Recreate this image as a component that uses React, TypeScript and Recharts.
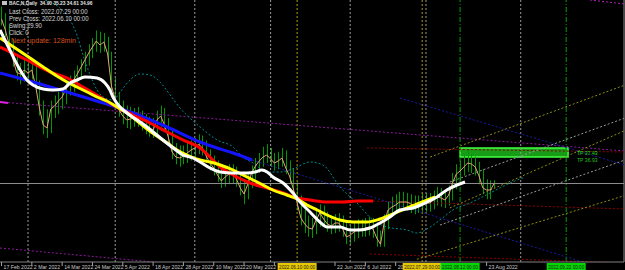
import { ComposedChart, Line, Bar, XAxis, YAxis, ReferenceLine, ReferenceArea } from 'recharts';

// daily bars, index 0 = 17 Feb 2022
const closes = [
  48.12, 47.24, 46.12, 44.92, 43.84, 43.72, 44.04, 43.8, 44.04, 42.76,
  41.0, 39.64, 39.4, 40.92, 41.16, 41.56, 41.88, 42.52, 42.92, 43.24,
  43.72, 44.28, 44.84, 45.4, 45.88, 46.36, 46.04, 46.28, 45.32, 42.76,
  41.72, 40.84, 40.36, 40.04, 40.12, 40.2, 40.12, 39.8, 39.56, 39.4,
  39.24, 40.04, 40.36, 39.64, 38.68, 37.48, 37.08, 37.0, 37.16, 37.4,
  37.64, 37.8, 38.12, 37.8, 37.16, 36.6, 36.2, 35.64, 35.16, 35.48,
  35.72, 35.72, 35.32, 34.6, 34.12, 34.92, 35.8, 36.36, 36.76, 37.08,
  37.24, 36.92, 36.6, 36.76, 37.0, 36.2, 35.56, 34.52, 33.4, 32.2,
  31.72, 31.4, 31.32, 32.04, 32.6, 32.12, 31.72, 31.56, 31.8, 31.8,
  31.32, 30.68, 30.84, 31.08, 31.32, 31.32, 31.4, 31.48, 31.32, 30.6,
  30.1, 31.88, 32.84, 33.08, 33.24, 33.48, 33.48, 33.48, 33.32, 33.16,
  33.24, 33.48, 33.4, 33.4, 33.64, 33.88, 33.8, 33.64, 34.04, 35.0,
  35.72, 35.96, 36.28, 36.6, 36.52, 36.28, 35.56, 34.6, 34.44, 34.44,
  34.96,
];
const highs = [
  49.1, 48.6, 47.7, 46.5, 45.3, 44.6, 44.9, 44.7, 44.9, 44.4,
  43.2, 41.6, 40.9, 41.6, 42.0, 42.3, 42.6, 43.1, 43.6, 44.0,
  44.4, 44.9, 45.5, 46.1, 46.6, 47.2, 47.1, 47.0, 46.7, 45.5,
  43.4, 42.3, 41.6, 41.2, 41.1, 41.0, 41.1, 40.8, 40.5, 40.3,
  40.2, 40.8, 41.2, 41.0, 40.2, 39.3, 38.2, 38.0, 38.0, 38.2,
  38.4, 38.6, 38.9, 38.8, 38.4, 37.7, 37.2, 36.8, 36.3, 36.3,
  36.5, 36.5, 36.3, 35.8, 35.3, 35.7, 36.4, 37.0, 37.4, 37.9,
  38.1, 37.8, 37.4, 37.5, 37.8, 37.6, 36.8, 36.2, 35.1, 34.0,
  32.9, 32.4, 32.2, 32.8, 33.3, 33.2, 32.7, 32.4, 32.5, 32.6,
  32.4, 31.9, 31.6, 31.8, 32.1, 32.1, 32.2, 32.3, 32.2, 31.8,
  31.2, 32.5, 33.5, 33.9, 34.1, 34.3, 34.3, 34.2, 34.1, 34.0,
  34.0, 34.2, 34.2, 34.2, 34.4, 34.7, 34.6, 34.4, 34.8, 35.8,
  36.5, 36.8, 37.2, 37.7, 37.3, 37.1, 36.7, 36.1, 35.3, 35.2,
  35.23,
];
const lows = [
  47.6, 46.7, 45.6, 44.3, 43.2, 42.9, 43.1, 43.1, 43.3, 42.2,
  40.4, 38.9, 38.6, 39.0, 40.2, 40.5, 40.9, 41.3, 42.0, 42.3,
  42.7, 43.3, 43.9, 44.4, 45.0, 45.5, 45.4, 45.5, 44.7, 42.2,
  41.1, 40.3, 39.7, 39.4, 39.3, 39.5, 39.5, 39.2, 38.9, 38.7,
  38.6, 38.9, 39.5, 39.1, 38.1, 36.9, 36.5, 36.3, 36.5, 36.6,
  36.8, 37.1, 37.3, 37.2, 36.6, 36.0, 35.6, 35.1, 34.6, 34.7,
  34.9, 35.0, 34.7, 34.0, 33.3, 33.7, 34.6, 35.3, 35.8, 36.3,
  36.6, 36.3, 36.0, 36.1, 36.3, 35.7, 35.0, 33.9, 32.8, 31.6,
  31.0, 30.7, 30.6, 30.9, 31.5, 31.5, 31.1, 30.9, 31.0, 31.1,
  30.7, 30.1, 30.1, 30.3, 30.6, 30.7, 30.7, 30.8, 30.6, 29.9,
  29.9, 29.9, 31.3, 32.3, 32.6, 32.7, 32.8, 32.8, 32.6, 32.5,
  32.6, 32.7, 32.7, 32.7, 32.9, 33.2, 33.1, 33.0, 33.2, 33.6,
  34.5, 35.2, 35.6, 35.9, 35.8, 35.6, 34.9, 34.1, 33.7, 33.7,
  34.61,
];

// moving averages, [bar index, price]
const whiteMa = [
  [-0.4, 47.24], [2.2, 45.64], [4.9, 44.04], [6.7, 43.24], [8.3, 42.84], [11, 42.52], [13.6, 42.44],
  [16.2, 42.52], [18.1, 43.0], [19.9, 43.24], [22, 43.48], [25.2, 43.4], [27.3, 43.0], [28.6, 42.44],
  [29.4, 41.88], [31.3, 41.08], [33.1, 40.6], [35.8, 40.04], [38.4, 39.48], [40, 39.08], [42.6, 38.44],
  [45.3, 37.8], [47.9, 37.24], [50.5, 37.0], [52.4, 36.68], [55, 36.2], [57.7, 35.88], [61.1, 35.8],
  [64.8, 35.8], [66.9, 35.88], [68.7, 36.04], [70.1, 35.88], [71.6, 35.48], [74.3, 35.0], [76.9, 34.2],
  [78.8, 33.48], [81.4, 32.68], [84, 31.88], [85.9, 31.48], [89.3, 31.48], [92, 31.24], [94.6, 31.24],
  [97.2, 31.4], [99.9, 31.8], [102.5, 32.28], [105.1, 32.84], [108.6, 33.0], [112.3, 33.48],
  [114.9, 33.88], [117.5, 34.44], [120.2, 34.84], [122.3, 35.08],
];
const yellowMa = [
  [-0.4, 46.6], [3.6, 45.8], [8.3, 44.84], [11, 44.28], [14.6, 43.56], [17.3, 43.08], [19.9, 42.68],
  [22.6, 42.28], [25.2, 41.88], [27.8, 41.56], [30.5, 41.08], [33.1, 40.6], [35.8, 39.96], [38.4, 39.32],
  [41, 38.76], [43.7, 38.2], [46.3, 37.64], [48.9, 37.24], [52.4, 36.84], [55, 36.68], [57.7, 36.44],
  [61.1, 36.04], [63.7, 35.64], [66.4, 35.24], [69, 34.84], [71.6, 34.44], [75.3, 34.04], [78, 33.72],
  [80.6, 33.24], [83.3, 32.84], [85.9, 32.44], [89.3, 32.04], [92.7, 31.88], [96.4, 31.88],
  [99.9, 32.12], [103.3, 32.52], [107, 33.0], [110.4, 33.4], [114.4, 33.88],
];
const redMa = [
  [-0.4, 45.88], [6.7, 44.84], [12.8, 43.88], [17.3, 43.4], [21.5, 42.68], [26, 41.88], [29.4, 41.24],
  [34.7, 40.44], [39.2, 39.8], [43.7, 39.08], [47.9, 38.44], [52.4, 37.8], [55, 37.08], [57.7, 36.28],
  [61.1, 35.64], [65.6, 35.0], [70.1, 34.6], [74.3, 34.2], [78, 33.8], [81.4, 33.64], [85.9, 33.48],
  [90.1, 33.48], [93.8, 33.56], [98, 33.56],
];
const blueMa = [
  [-0.4, 43.8], [8.3, 43.08], [17.3, 42.28], [26, 41.48], [34.7, 40.6], [43.7, 39.48], [52.4, 38.28],
  [56.9, 37.8], [61.1, 37.4], [66.1, 36.84],
];
const tealBand = [
  [11.5, 49.64], [15.4, 49.0], [18.1, 48.04], [19.9, 46.84], [21.5, 45.24], [23.4, 43.64], [25.2, 42.44],
  [27.3, 41.8], [29.4, 41.64], [31.3, 42.28], [33.9, 43.24], [36.5, 43.72], [39.2, 43.64], [41.8, 43.08],
  [44.5, 42.04], [47.1, 41.0], [49.7, 40.2], [52.4, 39.48], [56.9, 38.44], [61.1, 37.88], [63.7, 37.08],
  [66.4, 36.6], [70.1, 35.88], [73.5, 35.88], [77.4, 36.2], [81.4, 36.68], [84.8, 36.44], [89.3, 34.68],
  [93.8, 33.4], [98, 32.04], [101.7, 31.48], [107, 31.24], [109.6, 31.0], [113.1, 31.48], [115.7, 32.04],
  [119.1, 32.84], [123.6, 33.4], [128.9, 34.2], [134.2, 35.0], [138.1, 35.48],
];

// straight objects, [bar index, price] end points
const purpleLine = [[-0.4, 41.48], [164.5, 37.56]];
const purpleMark = [[-0.4, 41.48], [1.7, 41.4]];
const purpleLow = [[-0.4, 29.8], [48.9, 28.44]];
const purpleTop = [[155.3, 49.64], [164.5, 49.32]];
const redUpper = [[96.4, 37.8], [164.5, 37.48]];
const redMid = [[98, 33.56], [164.5, 32.92]];
const redLower = [[97.2, 29.32], [164.5, 28.6]];
const blueTail = [[66.1, 36.84], [164.5, 27.64]];
const blueUpper = [[105.1, 41.8], [164.5, 36.44]];
const oliveLines = [
  [[113.1, 37.08], [164.5, 42.84]],
  [[118.3, 33.0], [164.5, 39.2]],
  [[109.6, 28.9], [164.5, 34.0]],
];
const grayLines = [
  [[118.3, 35.08], [164.5, 40.2]],
  [[115.7, 31.64], [164.5, 36.84]],
];

const bidPrice = 34.96;
const tpBox = { x1: 121, x2: 149.5, y1: 37.08, y2: 37.8 };
const gridIdx = [7, 30, 51, 71, 92, 112, 137];
const crossIdx = [78, 111];
const signalIdx = [121, 149];

const tickIdx = [0, 8, 16, 24, 32, 40, 48, 56, 64, 72, 88, 96, 104, 128];
const tickLabels = [
  '17 Feb 2022', '2 Mar 2022', '14 Mar 2022', '24 Mar 2022', '5 Apr 2022', '18 Apr 2022', '28 Apr 2022',
  '10 May 2022', '20 May 2022', '', '22 Jun 2022', '6 Jul 2022', '20 Jul 2022', '23 Aug 2022',
];
const markIdx = [78, 111, 121, 149];
const markLabels = ['2022.06.10 00:00', '2022.07.29 00:00', '2022.08.12 00:00', '2022.09.22 00:00'];
const markColors = ['#e8c800', '#e8c800', '#00d800', '#00d800'];

const infoLines = ['Last Cross: 2022.07.29 00:00', 'Prev Cross: 2022.06.10 00:00', 'Swing:29.90', 'Click: 0'];

const toPts = (arr: number[][]) => arr.map(([i, v]) => ({ i, v }));
const bars = closes.map((c, i) => ({ i, close: c, hl: [lows[i], highs[i]] }));

function AxisTick(props: any) {
  const { x, payload } = props;
  const v = payload.value;
  const m = markIdx.indexOf(v);
  if (m >= 0) {
    return (
      <g>
        <rect x={x - 19.5} y={263} width={39} height={7} fill={markColors[m]} />
        <text x={x} y={269} textAnchor="middle" fontSize={5.2} fill="#202020" fontFamily="Liberation Sans" textLength={36} lengthAdjust="spacingAndGlyphs">
          {markLabels[m]}
        </text>
      </g>
    );
  }
  const k = tickIdx.indexOf(v);
  const label = tickLabels[k];
  // a label just left of a marker box is cut by the box
  const cut = markIdx.some((mi) => mi > v && mi - v < 8);
  return (
    <g>
      <line x1={x} x2={x} y1={262} y2={266} stroke="#a0a0a0" />
      {label && (
        <text x={x + 2} y={269} fontSize={5.2} fill="#c8c8c8" fontFamily="Liberation Sans">
          {cut ? label.split(' ')[0] : label}
        </text>
      )}
    </g>
  );
}

// crisp 1px high-low stick
function Stick(props: any) {
  const { x, y, width, height } = props;
  const cx = Math.round(x + width / 2) + 0.5;
  return <line x1={cx} x2={cx} y1={y} y2={y + height} stroke="#009a00" strokeWidth={1} />;
}

const seg = (pts: number[][], color: string, key: string, dash = '2 2', width = 1) => (
  <Line
    key={key}
    data={toPts(pts)}
    dataKey="v"
    type="linear"
    stroke={color}
    strokeWidth={width}
    strokeDasharray={dash}
    dot={false}
    activeDot={false}
    isAnimationActive={false}
  />
);

const squeeze = (sx: number): React.CSSProperties => ({
  transform: `scaleX(${sx})`,
  transformOrigin: 'left top',
  whiteSpace: 'nowrap',
  position: 'absolute',
});

export default function App() {
  return (
    <div style={{ position: 'fixed', left: 0, top: 0, width: 625, height: 270, background: '#000', overflow: 'hidden' }}>
      <ComposedChart width={625} height={270} data={bars} margin={{ top: 0, right: 1, bottom: 0, left: 0 }}>
        <XAxis
          type="number"
          dataKey="i"
          domain={[-0.4, 164.25]}
          allowDataOverflow
          height={8}
          ticks={[...tickIdx, ...markIdx]}
          interval={0}
          tick={<AxisTick />}
          tickLine={false}
          axisLine={{ stroke: '#808080' }}
        />
        <YAxis type="number" domain={[28.68, 49.64]} allowDataOverflow hide />

        {gridIdx.map((g) => (
          <ReferenceLine key={'g' + g} x={g} stroke="#9a9a9a" strokeDasharray="2 2" />
        ))}
        {crossIdx.map((g) => (
          <ReferenceLine key={'c' + g} x={g} stroke="#b8960b" strokeDasharray="2 2" />
        ))}
        {signalIdx.map((g) => (
          <ReferenceLine key={'s' + g} x={g} stroke="#00a000" strokeDasharray="5 2 1 2" />
        ))}
        <ReferenceLine y={bidPrice} stroke="#8c8c8c" />
        <ReferenceLine x={164.25} stroke="#8c8c8c" />

        {seg(purpleLine, '#8a1a9a', 'p1')}
        {seg(purpleMark, '#e020e0', 'pm', '0', 2)}
        {seg(purpleLow, '#8a1a9a', 'p2')}
        {seg(purpleTop, '#b020b0', 'p3')}
        {seg(redUpper, '#8b0000', 'r1')}
        {seg(redMid, '#8b0000', 'r2')}
        {seg(redLower, '#8b0000', 'r3')}
        {seg(blueTail, '#1a1aa0', 'b1')}
        {seg(blueUpper, '#1a1aa0', 'b2')}
        {oliveLines.map((l, n) => seg(l, '#8c8c14', 'o' + n))}
        {grayLines.map((l, n) => seg(l, '#9a9a9a', 'w' + n))}

        <ReferenceArea
          x1={tpBox.x1}
          x2={tpBox.x2}
          y1={tpBox.y1}
          y2={tpBox.y2}
          fill="#20d020"
          fillOpacity={0.75}
          stroke="#40ff40"
          strokeWidth={1.5}
        />

        <Line
          data={toPts(tealBand)}
          dataKey="v"
          type="monotone"
          stroke="#008b8b"
          strokeDasharray="2 2"
          dot={false}
          activeDot={false}
          isAnimationActive={false}
        />

        <Bar dataKey="hl" fill="#009a00" barSize={1} shape={<Stick />} isAnimationActive={false} />
        <Line dataKey="close" type="linear" stroke="#e8a078" strokeWidth={1} dot={false} activeDot={false} isAnimationActive={false} />

        <Line data={toPts(blueMa)} dataKey="v" type="monotone" stroke="#1414ff" strokeWidth={3} dot={false} activeDot={false} isAnimationActive={false} />
        <Line data={toPts(redMa)} dataKey="v" type="monotone" stroke="#ff0000" strokeWidth={3} dot={false} activeDot={false} isAnimationActive={false} />
        <Line data={toPts(yellowMa)} dataKey="v" type="monotone" stroke="#ffff00" strokeWidth={3} dot={false} activeDot={false} isAnimationActive={false} />
        <Line data={toPts(whiteMa)} dataKey="v" type="monotone" stroke="#ffffff" strokeWidth={3} dot={false} activeDot={false} isAnimationActive={false} />
      </ComposedChart>

      <div style={{ position: 'absolute', left: 0, top: 0, fontFamily: 'Liberation Sans', pointerEvents: 'none' }}>
        <div style={{ position: 'absolute', left: 2, top: 1, width: 5, height: 4, background: '#c0c0c0' }} />
        <div style={{ ...squeeze(0.88), left: 9, top: 0, fontSize: 5.5, lineHeight: '6px', fontWeight: 700, color: '#e0e0e0' }}>
          BAC,N,Daily&nbsp;&nbsp;34.90 35.23 34.61 34.96
        </div>
        {infoLines.map((t, n) => (
          <div key={t} style={{ ...squeeze(0.88), left: 9, top: 8.5 + n * 7, fontSize: 6.8, lineHeight: '6.5px', color: '#d8d8d8' }}>
            {t}
          </div>
        ))}
        <div style={{ ...squeeze(0.88), left: 11, top: 37, fontSize: 8, lineHeight: '8px', color: '#d2501e' }}>
          Next update: 128min
        </div>
        <div style={{ ...squeeze(0.85), left: 577, top: 150, fontSize: 6, lineHeight: '6px', color: '#20e020' }}>
          TP 37.43
        </div>
        <div style={{ ...squeeze(0.85), left: 577, top: 156.5, fontSize: 6, lineHeight: '6px', color: '#20c020' }}>
          TP 36.93
        </div>
      </div>
    </div>
  );
}
